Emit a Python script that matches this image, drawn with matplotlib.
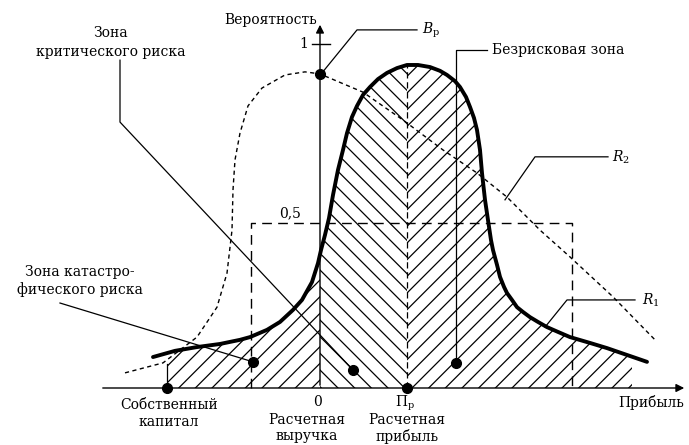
import matplotlib.pyplot as plt
from matplotlib.patches import Rectangle

plt.rcParams['font.family'] = ['DejaVu Serif']
plt.rcParams['mathtext.fontset'] = 'dejavuserif'
plt.rcParams['hatch.linewidth'] = 0.9

# R1 - thick bell curve (profit units, probability)
r1_x = [-167, -145, -123, -100, -80, -70, -53, -40, -27, -18, -8, -2, 1, 5, 9, 13, 18, 23,
        27, 32, 37, 43, 50, 58, 67, 77, 87, 98, 110, 120, 127, 135, 140, 146, 150, 154, 157,
        160, 162, 165, 168, 171, 173, 177, 180, 184, 187, 192, 197, 203, 210, 218, 227, 238,
        250, 270, 287, 307, 327]
r1_y = [0.090, 0.108, 0.119, 0.128, 0.140, 0.148, 0.169, 0.192, 0.227, 0.256, 0.308, 0.363,
        0.401, 0.445, 0.494, 0.561, 0.634, 0.692, 0.741, 0.788, 0.820, 0.852, 0.875, 0.898,
        0.916, 0.930, 0.939, 0.939, 0.933, 0.922, 0.910, 0.892, 0.875, 0.846, 0.817, 0.785,
        0.750, 0.692, 0.625, 0.547, 0.488, 0.430, 0.401, 0.358, 0.323, 0.294, 0.276, 0.256,
        0.235, 0.221, 0.206, 0.192, 0.177, 0.163, 0.148, 0.131, 0.116, 0.096, 0.076]

# R2 - dashed curve
r2_x = [-195, -157, -123, -103, -93, -88, -87, -85, -80, -72, -58, -35, -15, 0, 43, 83,
        123, 157, 187, 220, 250, 293, 335]
r2_y = [0.044, 0.073, 0.148, 0.235, 0.334, 0.459, 0.576, 0.663, 0.741, 0.820, 0.872, 0.910,
        0.919, 0.913, 0.860, 0.779, 0.692, 0.625, 0.555, 0.459, 0.381, 0.265, 0.140]

own_capital = -153
revenue = 0
profit = 87
zone_left, zone_right, zone_level = -69, 252, 0.481
hatch_end = 312

fig = plt.figure(figsize=(6.89, 4.45), dpi=100)
ax = fig.add_axes([0, 0, 1, 1])
ax.set_xlim(-320, 369)
ax.set_ylim(-57 / 344, 388 / 344)
ax.axis('off')

# hatched zones under R1
sections = [(own_capital, revenue, '//'), (revenue, profit, '\\\\'), (profit, hatch_end, '//')]
for x0, x1, h in sections:
    poly = ax.fill_between(r1_x, 0, r1_y, facecolor='none', edgecolor='black',
                           hatch=h, linewidth=0)
    poly.set_clip_path(Rectangle((x0, 0), x1 - x0, 2, transform=ax.transData))

# axes with arrows
ax.annotate('', xy=(367, 0), xytext=(-220, 0),
            arrowprops=dict(arrowstyle='-|>', color='black', lw=1.0, mutation_scale=12))
ax.annotate('', xy=(0, 1.064), xytext=(0, 0),
            arrowprops=dict(arrowstyle='-|>', color='black', lw=1.0, mutation_scale=12))
ax.plot([-8, 10], [1.0, 1.0], color='black', lw=1.0)

# dashed zone rectangle
ax.plot([zone_left, zone_left, zone_right, zone_right], [0, zone_level, zone_level, 0],
        color='black', lw=1.0, ls=(0, (7, 4.5)))

# vertical lines
ax.plot([own_capital, own_capital], [0, 0.07], color='black', lw=0.9)
ax.plot([profit, profit], [0, 0.939], color='black', lw=0.9, ls=(0, (5, 3)))

# curves
ax.plot(r2_x, r2_y, color='black', lw=1.0, ls=(0, (3, 2.5)))
ax.plot(r1_x, r1_y, color='black', lw=2.8, solid_joinstyle='round', solid_capstyle='round')

# leader lines
lk = dict(color='black', lw=0.9)
ax.plot([2, 37, 97], [0.916, 1.041, 1.041], **lk)
ax.plot([136, 136, 167], [0.073, 0.983, 0.983], **lk)
ax.plot([185, 215, 288], [0.547, 0.672, 0.672], **lk)
ax.plot([225, 247, 315], [0.177, 0.256, 0.256], **lk)
ax.plot([-200, -200, 33], [0.953, 0.773, 0.052], **lk)
ax.plot([-260, -67], [0.247, 0.076], **lk)

# points
dots_x = [0, own_capital, -67, 33, profit, 136]
dots_y = [0.913, 0, 0.076, 0.052, 0, 0.073]
ax.plot(dots_x, dots_y, 'o', color='black', ms=7)

fs = 10
t = dict(fontsize=fs, va='center')
ax.text(-3, 1.070, 'Вероятность', ha='right', **t)
ax.text(-12, 1.0, '1', ha='right', **t)
ax.text(-30, 0.509, '0,5', ha='center', **t)
ax.text(-209, 1.032, 'Зона', ha='center', **t)
ax.text(-209, 0.977, 'критического риска', ha='center', **t)
ax.text(-240, 0.337, 'Зона катастро-', ha='center', **t)
ax.text(-240, 0.285, 'фического риска', ha='center', **t)
ax.text(-151, -0.049, 'Собственный', ha='center', **t)
ax.text(-151, -0.100, 'капитал', ha='center', **t)
ax.text(-2, -0.041, '0', ha='center', **t)
ax.text(-13, -0.093, 'Расчетная', ha='center', **t)
ax.text(-13, -0.140, 'выручка', ha='center', **t)
ax.text(85, -0.044, r'$\mathrm{П}_{\mathrm{р}}$', ha='center', **t)
ax.text(87, -0.093, 'Расчетная', ha='center', **t)
ax.text(87, -0.140, 'прибыль', ha='center', **t)
ax.text(331, -0.041, 'Прибыль', ha='center', **t)
ax.text(172, 0.983, 'Безрисковая зона', ha='left', **t)
ax.text(102, 1.041, r'$B_{\mathrm{р}}$', ha='left', **t)
ax.text(292, 0.672, r'$R_2$', ha='left', **t)
ax.text(322, 0.256, r'$R_1$', ha='left', **t)

fig.savefig('out.png', dpi=100)
